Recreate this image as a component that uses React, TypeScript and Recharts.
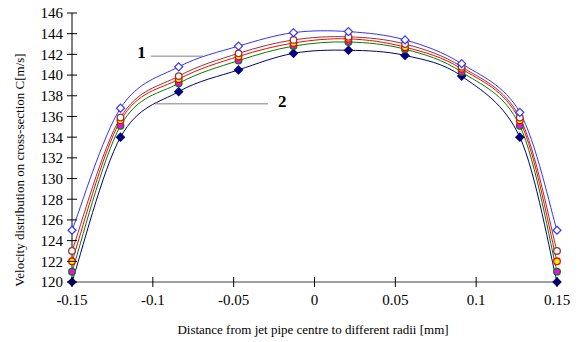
import React from 'react';
import { LineChart, Line, XAxis, YAxis, ReferenceLine } from 'recharts';

const radii = [-0.15, -0.12, -0.084, -0.047, -0.013, 0.021, 0.056, 0.091, 0.127, 0.15];
const series1 = [125, 136.8, 140.8, 142.8, 144.1, 144.2, 143.4, 141.1, 136.4, 125];
const series2 = [123, 135.9, 139.9, 142.1, 143.4, 143.7, 143.0, 140.8, 135.9, 123];
const series3 = [122, 135.6, 139.6, 141.8, 143.1, 143.5, 142.7, 140.6, 135.6, 122];
const series4 = [121, 135.1, 139.2, 141.4, 142.8, 143.2, 142.5, 140.3, 135.1, 121];
const series5 = [120, 134.0, 138.4, 140.5, 142.1, 142.4, 141.9, 139.9, 134.0, 120];
const xTicks = [-0.15, -0.1, -0.05, 0, 0.05, 0.1, 0.15];
const yTicks = [120, 122, 124, 126, 128, 130, 132, 134, 136, 138, 140, 142, 144, 146];

const data = radii.map((r, i) => ({
  r,
  s1: series1[i],
  s2: series2[i],
  s3: series3[i],
  s4: series4[i],
  s5: series5[i],
}));

const FONT = '"Liberation Serif", "Times New Roman", serif';

// Excel-like smoothed line (Catmull-Rom style Bezier)
const smoothCurve: any = (context: any) => {
  let pts: [number, number][] = [];
  return {
    areaStart() {},
    areaEnd() {},
    lineStart() {
      pts = [];
    },
    point(x: number, y: number) {
      pts.push([+x, +y]);
    },
    lineEnd() {
      const n = pts.length;
      if (!n) return;
      context.moveTo(pts[0][0], pts[0][1]);
      for (let i = 0; i < n - 1; i++) {
        const p0 = pts[Math.max(i - 1, 0)];
        const p1 = pts[i];
        const p2 = pts[i + 1];
        const p3 = pts[Math.min(i + 2, n - 1)];
        const c1x = p1[0] + (p2[0] - p0[0]) / 6;
        const c1y = p1[1] + (p2[1] - p0[1]) / 6;
        const c2x = p2[0] - (p3[0] - p1[0]) / 6;
        const c2y = p2[1] - (p3[1] - p1[1]) / 6;
        context.bezierCurveTo(c1x, c1y, c2x, c2y, p2[0], p2[1]);
      }
    },
  };
};

const YTick = (props: any) => {
  const { x, y, payload } = props;
  return (
    <g>
      <line x1={x - 5} x2={x + 5} y1={y} y2={y} stroke="#000" strokeWidth={1} />
      <text x={x - 9} y={y} dy="0.36em" textAnchor="end" fontSize={15} style={{ fontFamily: FONT }} fill="#000">
        {payload.value}
      </text>
    </g>
  );
};

const XTick = (props: any) => {
  const { x, y, payload } = props;
  return (
    <g>
      <line x1={x} x2={x} y1={y - 5} y2={y + 5} stroke="#000" strokeWidth={1} />
      <text x={x} y={y + 23} textAnchor="middle" fontSize={15} style={{ fontFamily: FONT }} fill="#000">
        {String(payload.value)}
      </text>
    </g>
  );
};

const makeDot = (shape: string, stroke: string, fill: string) => (props: any) => {
  const { cx, cy, index } = props;
  if (cx == null || cy == null) return <g key={index} />;
  if (shape === 'diamond') {
    const s = 4;
    return (
      <polygon
        key={index}
        points={`${cx},${cy - s} ${cx + s},${cy} ${cx},${cy + s} ${cx - s},${cy}`}
        stroke={stroke}
        strokeWidth={1.2}
        fill={fill}
      />
    );
  }
  return <circle key={index} cx={cx} cy={cy} r={3.3} stroke={stroke} strokeWidth={1.3} fill={fill} />;
};

export default function App() {
  return (
    <div style={{ position: 'absolute', left: 0, top: 0, width: 586, height: 342, background: '#fff', fontFamily: FONT }}>
      <LineChart width={586} height={342} data={data} margin={{ top: 13, right: 29, bottom: 30, left: 0 }}>
        <XAxis
          dataKey="r"
          type="number"
          domain={[-0.15, 0.15]}
          ticks={xTicks}
          interval={0}
          height={30}
          tickSize={0}
          tickMargin={0}
          tickLine={false}
          axisLine={{ stroke: '#808080', strokeWidth: 1.5 }}
          tick={<XTick />}
          label={{
            content: () => (
              <text x={313} y={334} textAnchor="middle" fontSize={13} style={{ fontFamily: FONT }} fill="#000">
                Distance from jet pipe centre to different radii [mm]
              </text>
            ),
          }}
        />
        <YAxis
          type="number"
          domain={[120, 146]}
          ticks={yTicks}
          interval={0}
          width={72}
          tickSize={0}
          tickMargin={0}
          tickLine={false}
          axisLine={{ stroke: '#000', strokeWidth: 1 }}
          tick={<YTick />}
          label={{
            content: () => (
              <text
                transform="translate(24,170) rotate(-90)"
                textAnchor="middle"
                fontSize={13}
                style={{ fontFamily: FONT }}
                fill="#000"
              >
                Velocity distribution on cross-section  C[m/s]
              </text>
            ),
          }}
        />
        <Line type={smoothCurve} dataKey="s5" stroke="#000080" strokeWidth={1} isAnimationActive={false} dot={makeDot('diamond', '#000080', '#000080')} />
        <Line type={smoothCurve} dataKey="s4" stroke="#008000" strokeWidth={1} isAnimationActive={false} dot={makeDot('circle', '#008000', '#ff00ff')} />
        <Line type={smoothCurve} dataKey="s3" stroke="#ff0000" strokeWidth={1} isAnimationActive={false} dot={makeDot('circle', '#ff0000', '#ffff00')} />
        <Line type={smoothCurve} dataKey="s2" stroke="#993333" strokeWidth={1} isAnimationActive={false} dot={makeDot('circle', '#993333', '#ffffff')} />
        <Line type={smoothCurve} dataKey="s1" stroke="#3333ff" strokeWidth={1} isAnimationActive={false} dot={makeDot('diamond', '#3333ff', '#ffffff')} />
        <ReferenceLine
          segment={[{ x: -0.1013, y: 141.83 }, { x: -0.0689, y: 141.83 }]}
          stroke="#808080"
          strokeWidth={1}
          label={{ value: '1', position: 'left', offset: 5, dy: -4, fill: '#000', fontSize: 17, fontWeight: 'bold', fontFamily: FONT }}
        />
        <ReferenceLine
          segment={[{ x: -0.0986, y: 137.22 }, { x: -0.0287, y: 137.22 }]}
          stroke="#808080"
          strokeWidth={1}
          label={{ value: '2', position: 'right', offset: 10, dy: -3, fill: '#000', fontSize: 17, fontWeight: 'bold', fontFamily: FONT }}
        />
      </LineChart>
    </div>
  );
}
